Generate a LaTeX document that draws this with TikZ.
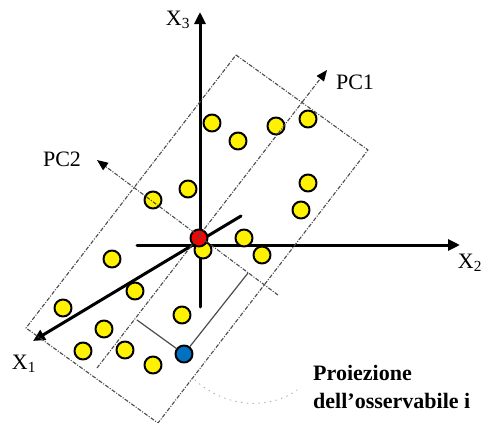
\documentclass[tikz,border=0pt]{standalone}
\usepackage{fontspec}
\setmainfont{Liberation Serif}
\usetikzlibrary{arrows.meta}
\tikzset{
  every picture/.style={line join=round, line cap=round, >={Triangle[length=12pt,width=11pt]}},
  axis/.style={line width=3pt, ->},
  dashdot/.style={draw=gray!60!black, line width=1.1pt, line cap=butt, dash pattern=on 4pt off 1.5pt on 1pt off 1.5pt},
  pcaxis/.style={dashdot, -{Triangle[length=11pt,width=9pt,black]}},
  proj/.style={draw=gray!60!black, line width=1.2pt},
  obs/.style={circle, draw=black, line width=2pt, fill=yellow, minimum size=17pt, inner sep=0pt},
  lab/.style={font=\fontsize{22}{26}\selectfont, inner sep=0pt},
}

\begin{document}
\begin{tikzpicture}[x=1pt,y=-1pt]
\useasboundingbox (0,0) rectangle (482,423);
% axes
\coordinate (X1s) at (241,216); \coordinate (X1e) at (33,341);
\coordinate (X2s) at (137,245); \coordinate (X2e) at (460,245);
\coordinate (X3s) at (200,307); \coordinate (X3e) at (200,12);
\draw[axis] (X1s)--(X1e);
\draw[axis] (X2s)--(X2e);
\draw[axis] (X3s)--(X3e);
\node[lab] (x1lab) at (24,364) {X\textsubscript{1}};
\node[lab] (x2lab) at (470,263) {X\textsubscript{2}};
\node[lab] (x3lab) at (178,20) {X\textsubscript{3}};
% observations
\foreach \x/\y [count=\i] in {212/123, 238/141, 276/126, 308/119, 308/183, 301/210,
  188/189, 153/200, 244/238, 262/255, 203/250, 112/259, 135/291, 63/308,
  104/329, 83/351, 125/350, 153/365, 182/315}
  {\node[obs] (p\i) at (\x,\y) {};}
\node[obs, fill=red] (mean) at (199,238) {};
\node[obs, fill={rgb,255:red,0;green,112;blue,192}] (obsi) at (184,354) {};
% box of the data
\coordinate (Bt) at (236,55); \coordinate (Br) at (368,150);
\coordinate (Bb) at (158,423); \coordinate (Bl) at (26,328);
\draw[dashdot] (Bt)--(Br)--(Bb)--(Bl)--cycle;
% principal components
\coordinate (PC1s) at (97,368); \coordinate (PC1e) at (327,70);
\coordinate (PC2s) at (278,295); \coordinate (PC2e) at (97,160);
\draw[pcaxis] (PC1s)--(PC1e);
\draw[pcaxis] (PC2s)--(PC2e);
\node[lab] (pc1lab) at (355,82) {PC1};
\node[lab] (pc2lab) at (62,159) {PC2};
% projection of observation i
\coordinate (q1) at (137,320); \coordinate (q2) at (248,273);
\draw[proj] (obsi)--(q1);
\draw[proj] (obsi)--(q2);
\node[lab, font=\fontsize{22}{26}\selectfont\bfseries, anchor=base west] (note1) at (313,380) {Proiezione};
\node[lab, font=\fontsize{22}{26}\selectfont\bfseries, anchor=base west] (note2) at (313,408) {dell'osservabile i};
\coordinate (c1) at (195,380); \coordinate (c2) at (297,390);
\draw[gray!60, line width=1pt, dash pattern=on 0.8pt off 5pt] (c1) .. controls (225,408) and (270,410) .. (c2);
\end{tikzpicture}
\end{document}
